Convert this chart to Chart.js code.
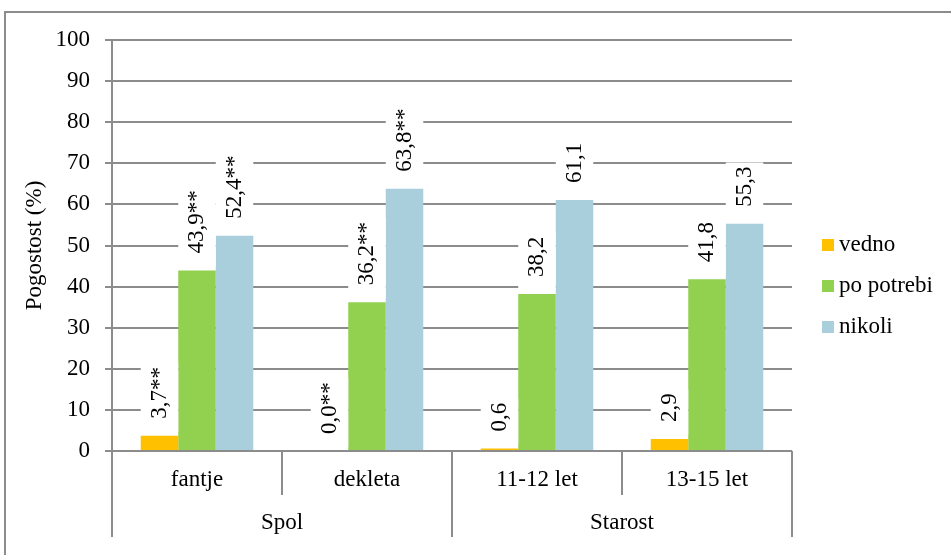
<!DOCTYPE html>
<html>
<head>
<meta charset="utf-8">
<script src="https://cdn.jsdelivr.net/npm/chart.js@4/dist/chart.umd.min.js"></script>
<style>
  html, body { margin: 0; padding: 0; background: #fff; }
  canvas { display: block; }
</style>
</head>
<body>
<canvas id="chart" width="951" height="555"></canvas>
<script>
// Categories, grouped under two headings
const categories = ['fantje', 'dekleta', '11-12 let', '13-15 let'];
const groups = ['Spol', 'Starost'];
const groupSizes = [2, 2];

// Series (%)
const seriesNames = ['vedno', 'po potrebi', 'nikoli'];
const vedno = [3.7, 0.0, 0.6, 2.9];
const poPotrebi = [43.9, 36.2, 38.2, 41.8];
const nikoli = [52.4, 63.8, 61.1, 55.3];
// Significance marks appended to the value labels, per category
const significance = ['**', '**', '', ''];

// Y axis ticks
const yTicks = [0, 10, 20, 30, 40, 50, 60, 70, 80, 90, 100];

const seriesColors = ['#FFC000', '#92D050', '#A9CFDD'];
const FONT = "'Liberation Serif', 'Times New Roman', serif";
const FONT_SIZE = 23;
const GRID = '#8c8c8c';

const fmt = v => v.toFixed(1).replace('.', ',');

// Rotated value labels on a white box above each bar
const valueLabels = {
  id: 'valueLabels',
  afterDatasetsDraw(chart) {
    const ctx = chart.ctx;
    ctx.save();
    ctx.font = FONT_SIZE + 'px ' + FONT;
    chart.data.datasets.forEach((ds, di) => {
      const meta = chart.getDatasetMeta(di);
      meta.data.forEach((bar, i) => {
        const text = fmt(ds.data[i]) + significance[i];
        const tw = ctx.measureText(text).width;
        const w = bar.width;
        const start = bar.y - 17;
        ctx.fillStyle = '#fff';
        ctx.fillRect(bar.x - w / 2, start - tw - 4, w, tw + 17 - 4 + 4);
        ctx.save();
        ctx.translate(bar.x, start);
        ctx.rotate(-Math.PI / 2);
        ctx.fillStyle = '#000';
        ctx.textAlign = 'left';
        ctx.textBaseline = 'middle';
        ctx.fillText(text, 0, 0);
        ctx.restore();
      });
    });
    ctx.restore();
  }
};

// Category separators, group headings, legend and outer frame
const decorations = {
  id: 'decorations',
  afterDraw(chart) {
    const ctx = chart.ctx;
    const x = chart.scales.x;
    const area = chart.chartArea;
    const n = categories.length;
    const boundary = k => {
      if (k <= 0) return area.left;
      if (k >= n) return area.right;
      return (x.getPixelForValue(k - 1) + x.getPixelForValue(k)) / 2;
    };
    ctx.save();
    ctx.strokeStyle = GRID;
    ctx.lineWidth = 2;
    // group edges
    const groupEdges = [0];
    groupSizes.forEach(s => groupEdges.push(groupEdges[groupEdges.length - 1] + s));
    for (let k = 0; k <= n; k++) {
      const px = Math.round(boundary(k));
      const long = groupEdges.includes(k);
      ctx.beginPath();
      ctx.moveTo(px, area.bottom);
      ctx.lineTo(px, area.bottom + (long ? 86 : 44));
      ctx.stroke();
    }
    // group headings
    ctx.fillStyle = '#000';
    ctx.font = FONT_SIZE + 'px ' + FONT;
    ctx.textAlign = 'center';
    ctx.textBaseline = 'middle';
    groups.forEach((g, gi) => {
      const cx = (boundary(groupEdges[gi]) + boundary(groupEdges[gi + 1])) / 2;
      ctx.fillText(g, cx, area.bottom + 72);
    });
    // legend
    ctx.textAlign = 'left';
    chart.data.datasets.forEach((ds, di) => {
      const cy = 245 + di * 41;
      ctx.fillStyle = ds.backgroundColor;
      ctx.fillRect(822, cy - 6, 12, 12);
      ctx.fillStyle = '#000';
      ctx.fillText(ds.label, 839, cy);
    });
    // outer frame
    ctx.strokeStyle = GRID;
    ctx.lineWidth = 2;
    ctx.strokeRect(5, 12, 960, 560);
    ctx.restore();
  }
};

new Chart(document.getElementById('chart'), {
  type: 'bar',
  data: {
    labels: categories,
    datasets: [vedno, poPotrebi, nikoli].map((d, i) => ({
      label: seriesNames[i],
      data: d,
      backgroundColor: seriesColors[i],
      borderWidth: 0,
      categoryPercentage: 0.662,
      barPercentage: 1
    }))
  },
  options: {
    responsive: false,
    devicePixelRatio: 1,
    animation: false,
    layout: { padding: { left: 0, right: 159, top: 40, bottom: 0 } },
    plugins: { legend: { display: false }, tooltip: { enabled: false } },
    scales: {
      x: {
        grid: { display: false, drawTicks: false },
        border: { display: false },
        ticks: {
          font: { family: FONT, size: FONT_SIZE },
          color: '#000',
          padding: 15,
          maxRotation: 0,
          autoSkip: false
        },
        afterFit(s) { s.height = 104; }
      },
      y: {
        min: 0,
        max: 100,
        afterBuildTicks(s) { s.ticks = yTicks.map(v => ({ value: v })); },
        grid: { color: GRID, lineWidth: 2, tickLength: 7, drawTicks: true },
        border: { display: true, color: GRID, width: 2 },
        ticks: {
          font: { family: FONT, size: FONT_SIZE },
          color: '#000',
          padding: 15
        },
        title: {
          display: true,
          text: 'Pogostost (%)',
          font: { family: FONT, size: FONT_SIZE },
          color: '#000',
          padding: { top: 21, bottom: 0 }
        },
        afterFit(s) { s.width = 112; }
      }
    }
  },
  plugins: [valueLabels, decorations]
});
</script>
</body>
</html>
